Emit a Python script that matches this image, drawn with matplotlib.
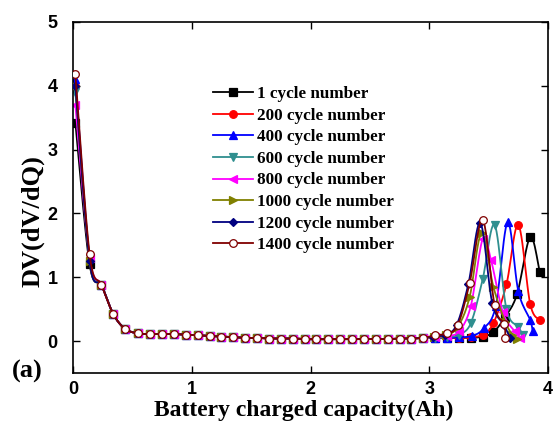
import numpy as np
import matplotlib
matplotlib.use("Agg")
import matplotlib.pyplot as plt

# shared flat part of the curves (0.24 .. 2.95 Ah)
x_flat = [0.24, 0.34, 0.44, 0.55, 0.65, 0.75, 0.85, 0.95, 1.05, 1.15, 1.25, 1.35,
          1.45, 1.55, 1.65, 1.75, 1.85, 1.95, 2.05, 2.15, 2.25, 2.35, 2.45, 2.55,
          2.65, 2.75, 2.85, 2.95]
y_flat = [0.88, 0.42, 0.19, 0.12, 0.11, 0.11, 0.11, 0.10, 0.09, 0.08, 0.07, 0.06,
          0.05, 0.05, 0.04, 0.04, 0.04, 0.03, 0.03, 0.03, 0.03, 0.03, 0.03, 0.03,
          0.03, 0.04, 0.04, 0.05]

x_start = [0.02, 0.14]

labels = ["1 cycle number", "200 cycle number", "400 cycle number", "600 cycle number",
          "800 cycle number", "1000 cycle number", "1200 cycle number", "1400 cycle number"]

y_start = [[3.42, 1.20], [4.00, 1.28], [4.10, 1.30], [3.90, 1.30],
           [3.70, 1.30], [4.00, 1.25], [4.00, 1.25], [4.18, 1.36]]

x_tail = [
    [3.05, 3.15, 3.25, 3.35, 3.45, 3.54, 3.64, 3.74, 3.85, 3.93],
    [3.05, 3.15, 3.25, 3.35, 3.45, 3.54, 3.65, 3.75, 3.85, 3.93],
    [3.05, 3.15, 3.25, 3.36, 3.46, 3.56, 3.66, 3.75, 3.85, 3.87],
    [3.05, 3.15, 3.25, 3.35, 3.45, 3.55, 3.65, 3.75, 3.79],
    [3.05, 3.15, 3.25, 3.35, 3.45, 3.52, 3.62, 3.72, 3.76],
    [3.04, 3.14, 3.24, 3.34, 3.44, 3.54, 3.64, 3.70, 3.74],
    [3.03, 3.13, 3.23, 3.33, 3.43, 3.53, 3.63, 3.68],
    [3.05, 3.15, 3.24, 3.34, 3.45, 3.55, 3.63, 3.64],
]
y_tail = [
    [0.05, 0.05, 0.05, 0.05, 0.07, 0.14, 0.38, 0.74, 1.63, 1.08],
    [0.05, 0.05, 0.05, 0.06, 0.10, 0.28, 0.89, 1.82, 0.58, 0.33],
    [0.05, 0.05, 0.06, 0.08, 0.20, 0.55, 1.86, 0.78, 0.33, 0.15],
    [0.05, 0.06, 0.10, 0.28, 0.97, 1.82, 0.50, 0.22, 0.09],
    [0.06, 0.08, 0.15, 0.55, 1.60, 1.27, 0.45, 0.15, 0.05],
    [0.06, 0.09, 0.22, 0.69, 1.69, 0.85, 0.30, 0.10, 0.03],
    [0.07, 0.10, 0.25, 0.90, 1.85, 0.60, 0.25, 0.05],
    [0.09, 0.12, 0.25, 0.91, 1.90, 0.56, 0.27, 0.05],
]

colors = ["#000000", "#ff0000", "#0000ff", "#2f8f8f", "#ff00ff", "#808000", "#000080", "#800000"]
markers = ["s", "o", "^", "v", "<", ">", "D", "o"]

serif = "Liberation Serif"
sans = "Liberation Sans"


def spline(x, y, n=12):
    # catmull-rom through the points, like Origin's spline connection
    p = np.column_stack([x, y])
    p = np.vstack([p[0], p, p[-1]])
    t = np.linspace(0, 1, n, endpoint=False)[:, None]
    out = []
    for k in range(1, len(p) - 2):
        p0, p1, p2, p3 = p[k - 1], p[k], p[k + 1], p[k + 2]
        seg = 0.5 * ((2 * p1) + (-p0 + p2) * t + (2 * p0 - 5 * p1 + 4 * p2 - p3) * t ** 2
                     + (-p0 + 3 * p1 - 3 * p2 + p3) * t ** 3)
        out.append(seg)
    out.append(p[-2][None, :])
    out = np.vstack(out)
    return out[:, 0], out[:, 1]


fig = plt.figure(figsize=(5.53, 4.34), dpi=100)
ax = fig.add_axes([0.132, 0.1406, 0.859, 0.809])

for i in range(len(labels)):
    x = x_start + x_flat + x_tail[i]
    y = y_start[i] + y_flat + y_tail[i]
    face = "white" if i == 7 else colors[i]
    ms = 5.5 if markers[i] != "D" else 4.5
    sx, sy = spline(x, y)
    ax.plot(sx, sy, color=colors[i], linewidth=1.3, zorder=2 + i * 0.1)
    ax.plot(x, y, linestyle="none", color=colors[i], marker=markers[i], markersize=ms,
            markerfacecolor=face, markeredgecolor=colors[i], markeredgewidth=0.9,
            zorder=2.05 + i * 0.1)
    # legend proxy
    ax.plot([], [], color=colors[i], marker=markers[i], markersize=ms,
            markerfacecolor=face, markeredgecolor=colors[i], markeredgewidth=0.9,
            linewidth=1.3, label=labels[i])

ax.set_xlim(0, 4)
ax.set_ylim(-0.5, 5)
ax.set_xticks([0, 1, 2, 3, 4])
ax.set_yticks([0, 1, 2, 3, 4, 5])
ax.tick_params(direction="in", length=5, width=1, top=True, right=True)
ax.tick_params(axis="x", pad=6)
ax.tick_params(axis="y", pad=11)
for lab in ax.get_xticklabels() + ax.get_yticklabels():
    lab.set_fontfamily(sans)
    lab.set_fontweight("bold")
    lab.set_fontsize(13)
for s in ax.spines.values():
    s.set_linewidth(1.2)

ax.set_xlabel("Battery charged capacity(Ah)", fontfamily=serif, fontweight="bold", fontsize=17)
ax.xaxis.set_label_coords(0.485, -0.075)
ax.xaxis.label.set_va("top")
ax.set_ylabel("DV(dV/dQ)", fontfamily=serif, fontweight="bold", fontsize=19)
ax.yaxis.set_label_coords(-0.06, 0.433)

fig.text(27 / 553, 1 - 371 / 434, "(a)", fontfamily=serif, fontweight="bold", fontsize=19,
         ha="center", va="center")

ax.legend(loc="upper left", bbox_to_anchor=(0.385, 0.802), bbox_transform=fig.transFigure,
          frameon=False, borderpad=0, borderaxespad=0, handlelength=2.35, handletextpad=0.25,
          labelspacing=0.33, prop={"family": serif, "weight": "bold", "size": 12.3})

fig.savefig("out.png", dpi=100)
